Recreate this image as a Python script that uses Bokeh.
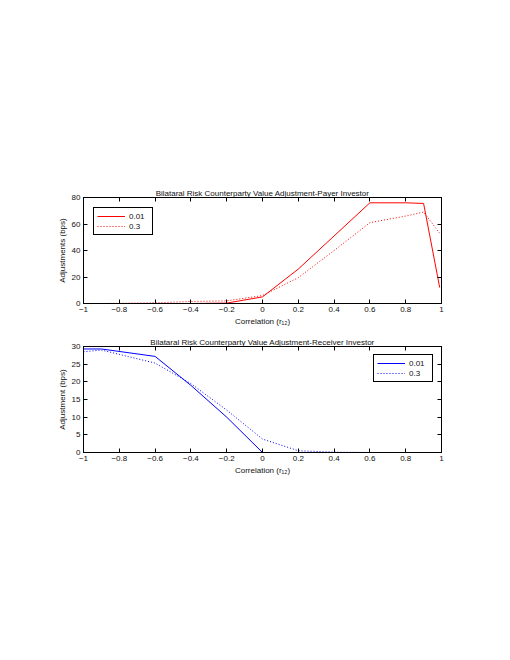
from bokeh.plotting import figure
from bokeh.layouts import column
from bokeh.models import LinearAxis, FixedTicker, Legend, LegendItem, Range1d, CustomJSTickFormatter
from bokeh.embed import file_html
from bokeh.resources import INLINE

# Data
corr = [-1, -0.9, -0.6, -0.4, -0.2, 0, 0.2, 0.4, 0.6, 0.8, 0.9, 0.99]
payer_001 = [0, 0, 0, 0, 0.3, 5, 26, 51, 76, 76, 75.5, 12]
payer_03 = [0, 0, 0.5, 1.5, 2, 6, 19.5, 40, 61, 66, 69, 53]
recv_001 = [29.3, 29.3, 27.2, 19, 10, 0, 0, 0, 0, 0, 0, 0]
recv_03 = [28.5, 29, 25.3, 19.5, 12, 3.8, 0.5, 0.1, 0, 0, 0, 0]
x_ticks = [-1, -0.8, -0.6, -0.4, -0.2, 0, 0.2, 0.4, 0.6, 0.8, 1]
payer_ticks = [0, 20, 40, 60, 80]
recv_ticks = [0, 5, 10, 15, 20, 25, 30]
series_labels = ["0.01", "0.3"]

FONT = "Liberation Sans"
FS = "8px"
TXT = "#111111"


def style_axes(p, yticks):
    p.xaxis.ticker = FixedTicker(ticks=x_ticks)
    p.yaxis.ticker = FixedTicker(ticks=yticks)
    for ax in p.xaxis + p.yaxis:
        ax.major_tick_in = 4
        ax.major_tick_out = 0
        ax.minor_tick_line_color = None
        ax.axis_line_color = "black"
        ax.major_tick_line_color = "black"
        ax.major_label_text_font = FONT
        ax.major_label_text_font_size = FS
        ax.major_label_text_color = TXT
        ax.major_label_standoff = 3
        ax.axis_label_text_font = FONT
        ax.axis_label_text_font_size = FS
        ax.axis_label_text_color = TXT
        ax.axis_label_text_font_style = "normal"
        ax.axis_label_standoff = 2
    for loc, tk in (("above", x_ticks), ("right", yticks)):
        ax = LinearAxis(ticker=FixedTicker(ticks=tk),
                        formatter=CustomJSTickFormatter(code="return ''"))
        ax.major_tick_in = 4
        ax.major_tick_out = 0
        ax.minor_tick_line_color = None
        ax.major_label_standoff = 0
        ax.axis_line_color = "black"
        ax.major_tick_line_color = "black"
        p.add_layout(ax, loc)
    p.xgrid.grid_line_color = None
    p.ygrid.grid_line_color = None
    p.outline_line_color = "black"
    p.title.text_font = FONT
    p.title.text_font_size = FS
    p.title.text_color = TXT
    p.title.text_font_style = "normal"
    p.title.align = "center"
    p.title.standoff = 0
    p.title.offset = 0


W = 494
p1 = figure(width=W, height=333, output_backend="svg", toolbar_location=None,
            x_range=Range1d(-1, 1), y_range=Range1d(0, 80),
            title="Bilataral Risk Counterparty Value Adjustment-Payer Investor",
            min_border_left=83, min_border_right=53, min_border_top=197,
            min_border_bottom=30)
r1 = p1.line(corr, payer_001, line_color="red", line_width=1)
r2 = p1.line(corr, payer_03, line_color="red", line_width=1, line_dash="1 2")
p1.xaxis.axis_label = "Correlation (r₁₂)"
p1.yaxis.axis_label = "Adjustments (bps)"
style_axes(p1, payer_ticks)
leg1 = Legend(items=[LegendItem(label=series_labels[0], renderers=[r1]),
                     LegendItem(label=series_labels[1], renderers=[r2])],
              location="top_left")
p1.add_layout(leg1)

p2 = figure(width=W, height=319, output_backend="svg", toolbar_location=None,
            x_range=Range1d(-1, 1), y_range=Range1d(0, 30),
            title="Bilataral Risk Counterparty Value Adjustment-Receiver Investor",
            min_border_left=83, min_border_right=53, min_border_top=13,
            min_border_bottom=200)
r3 = p2.line(corr, recv_001, line_color="blue", line_width=1)
r4 = p2.line(corr, recv_03, line_color="blue", line_width=1, line_dash="1 2")
p2.xaxis.axis_label = "Correlation (r₁₂)"
p2.yaxis.axis_label = "Adjustment (bps)"
style_axes(p2, recv_ticks)
leg2 = Legend(items=[LegendItem(label=series_labels[0], renderers=[r3]),
                     LegendItem(label=series_labels[1], renderers=[r4])],
              location="top_right")
p2.add_layout(leg2)

for p, m in ((p1, 10), (p2, 8)):
    lg = p.legend[0]
    lg.label_text_font = FONT
    lg.label_text_font_size = FS
    lg.label_text_color = TXT
    lg.border_line_color = "black"
    lg.border_line_width = 1
    lg.border_line_alpha = 1
    lg.glyph_width = 28
    lg.glyph_height = 10
    lg.label_height = 10
    lg.label_standoff = 4
    lg.spacing = 0
    lg.padding = 3
    lg.margin = m

layout = column(p1, p2, spacing=0)
open("out.html", "w").write(file_html(layout, INLINE))
